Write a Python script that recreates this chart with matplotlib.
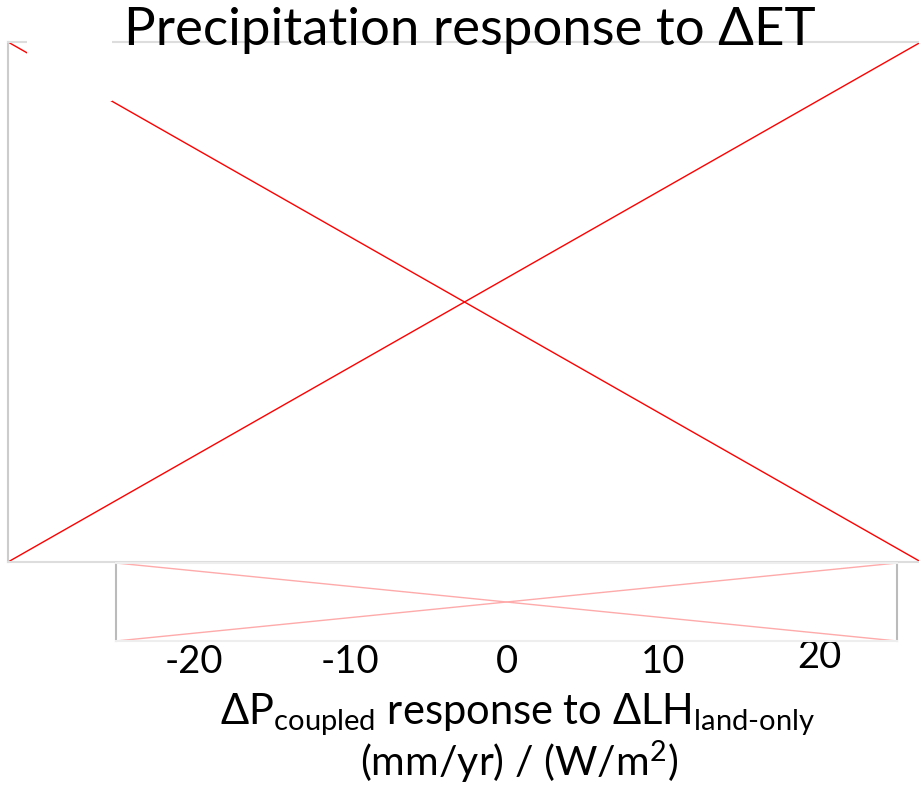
import matplotlib
matplotlib.use("Agg")
import matplotlib.pyplot as plt
from matplotlib.patches import Rectangle
import matplotlib.transforms as mtransforms

plt.rcParams['font.family'] = ['Lato', 'DejaVu Sans']
plt.rcParams['mathtext.fontset'] = 'custom'
plt.rcParams['mathtext.rm'] = 'Lato'
plt.rcParams['mathtext.it'] = 'Lato'

# Data
title = "Precipitation response to ΔET"
cbar_range = [-25, 25]
cbar_ticks = [-20, -10, 0, 10, 20]
cbar_ticklabels = ["-20", "-10", "0", "10", "20"]
cross_x = [0, 1]
cross_y_down = [1, 0]
cross_y_up = [0, 1]

W, H = 920, 787
fig = plt.figure(figsize=(W / 100, H / 100), dpi=100)

def rect(x0, y0, x1, y1):
    return [x0 / W, 1 - y1 / H, (x1 - x0) / W, (y1 - y0) / H]

# Main (broken image) panel
ax = fig.add_axes(rect(8, 42, 921, 562))
ax.set_xlim(0, 1)
ax.set_ylim(0, 1)
ax.plot(cross_x, cross_y_down, color='red', lw=1)
ax.plot(cross_x, cross_y_up, color='red', lw=1)
ax.set_xticks([])
ax.set_yticks([])
ax.spines['right'].set_visible(False)
ax.spines['left'].set_color('#cccccc')
ax.spines['top'].set_color('#dddddd')
ax.spines['bottom'].set_color('#dddddd')
for s in ax.spines.values():
    s.set_linewidth(1.5)

# white block at top-left
fig.patches.append(Rectangle((27 / W, 1 - 101 / H), (112 - 27) / W, (101 - 30) / H,
                             transform=fig.transFigure, facecolor='white',
                             edgecolor='none', zorder=10))

fig.text(470 / W, 1 - 31 / H, title, ha='center', va='center', fontsize=38, color='black')

# Colorbar-like panel
cax = fig.add_axes(rect(116, 563, 897, 641))
cax.set_xlim(*cbar_range)
cax.set_ylim(0, 1)
cax.plot(cbar_range, cross_y_down, color='#ffaaaa', lw=1)
cax.plot(cbar_range, cross_y_up, color='#ffaaaa', lw=1)
cax.set_yticks([])
cax.set_xticks(cbar_ticks)
cax.set_xticklabels(cbar_ticklabels, fontsize=27.5)
cax.tick_params(axis='x', length=0, pad=2)
cax.spines['left'].set_color('#bbbbbb')
cax.spines['right'].set_color('#bbbbbb')
cax.spines['top'].set_color('#eeeeee')
cax.spines['bottom'].set_color('#eeeeee')
for s in cax.spines.values():
    s.set_linewidth(1.5)
lbls = cax.get_xticklabels()
off = mtransforms.ScaledTranslation(0, 5 / 100, fig.dpi_scale_trans)
lbls[-1].set_transform(lbls[-1].get_transform() + off)

fig.text(518 / W, 1 - 715 / H,
         r'$\Delta$P$_{\mathrm{coupled}}$ response to $\Delta$LH$_{\mathrm{land\text{-}only}}$',
         ha='center', va='center', fontsize=30)
fig.text(519 / W, 1 - 762 / H, r'(mm/yr) / (W/m$^{2}$)', ha='center', va='center', fontsize=29.5)

fig.savefig('out.png', dpi=100)
